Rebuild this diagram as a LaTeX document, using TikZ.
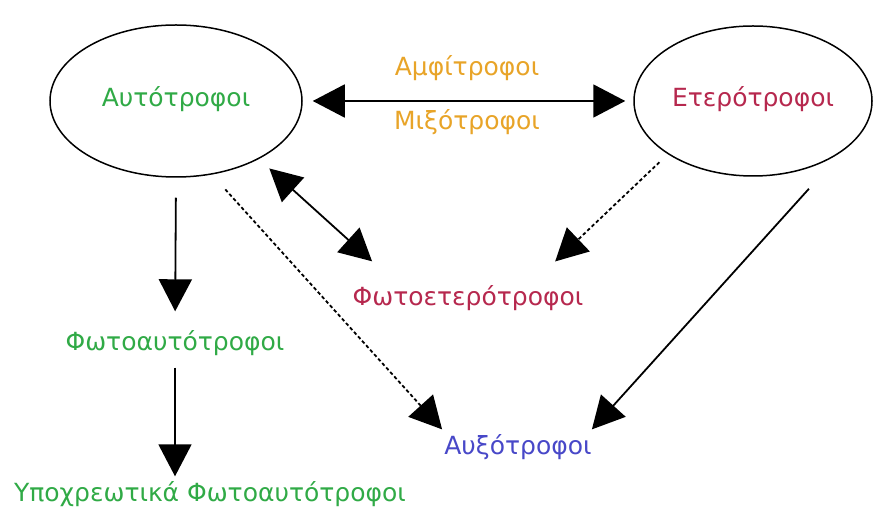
\documentclass[tikz,border=0pt]{standalone}
\usepackage{fontspec}
\setmainfont{DejaVu Sans}
\usetikzlibrary{arrows.meta,shapes.geometric}
\definecolor{autogreen}{RGB}{48,170,70}
\definecolor{heterored}{RGB}{182,40,78}
\definecolor{mixoorange}{RGB}{232,164,40}
\definecolor{auxoblue}{RGB}{72,72,200}

\begin{document}
\begin{tikzpicture}[x=1pt,y=1pt,
   every node/.style={font=\fontsize{25}{29}\selectfont, text height=17pt, text depth=5pt, inner sep=0pt},
   group/.style={draw, ellipse, line width=1.5pt},
   arr/.style={-{Triangle[length=32pt,width=33pt]}, line width=1.8pt},
   arrboth/.style={{Triangle[length=32pt,width=33pt]}-{Triangle[length=32pt,width=33pt]}, line width=1.8pt},
   dotarr/.style={arr, dash pattern=on 3.5pt off 2.5pt}]
   \useasboundingbox (0,0) rectangle (873,509);
   % the two big groups
   \node[group, minimum width=252pt, minimum height=152pt, text=autogreen] (auto) at (176,408) {Αυτότροφοι};
   \node[group, minimum width=238pt, minimum height=150pt, text=heterored] (hetero) at (753,408) {Ετερότροφοι};
   % labels
   \node[text=mixoorange] (amphi) at (467,439) {Αμφίτροφοι};
   \node[text=mixoorange] (mixo) at (467,385) {Μιξότροφοι};
   \node[text=autogreen] (photoauto) at (175,164) {Φωτοαυτότροφοι};
   \node[text=autogreen] (obligate) at (210,14) {Υποχρεωτικά Φωτοαυτότροφοι};
   \node[text=heterored] (photohetero) at (468,209) {Φωτοετερότροφοι};
   \node[text=auxoblue] (auxo) at (518,61) {Αυξότροφοι};
   % arrows
   \draw[arrboth, shorten <=10pt, shorten >=8pt] (auto.east) -- (hetero.west);
   \draw[arr, shorten <=20pt, shorten >=22.5pt] (auto.south) -- (photoauto.north);
   \draw[arr, shorten <=11.5pt, shorten >=7.5pt] (photoauto.south) -- (photoauto.south |- obligate.north);
   \draw[arrboth, shorten <=14pt, shorten >=41pt] (auto.-35) -- ([xshift=-65.5pt]photohetero.north);
   \draw[dotarr, shorten <=11.6pt, shorten >=39.7pt] (hetero.-148) -- ([xshift=58.4pt]photohetero.north);
   \draw[dotarr, shorten <=20pt, shorten >=10pt] (auto.-64) -- ([xshift=-69.2pt]auxo.north);
   \draw[arr, shorten <=51pt, shorten >=10pt] (hetero.-29.3) -- ([xshift=67.2pt]auxo.north);
   %\node[below] at (467,412) {};
\end{tikzpicture}
\end{document}
